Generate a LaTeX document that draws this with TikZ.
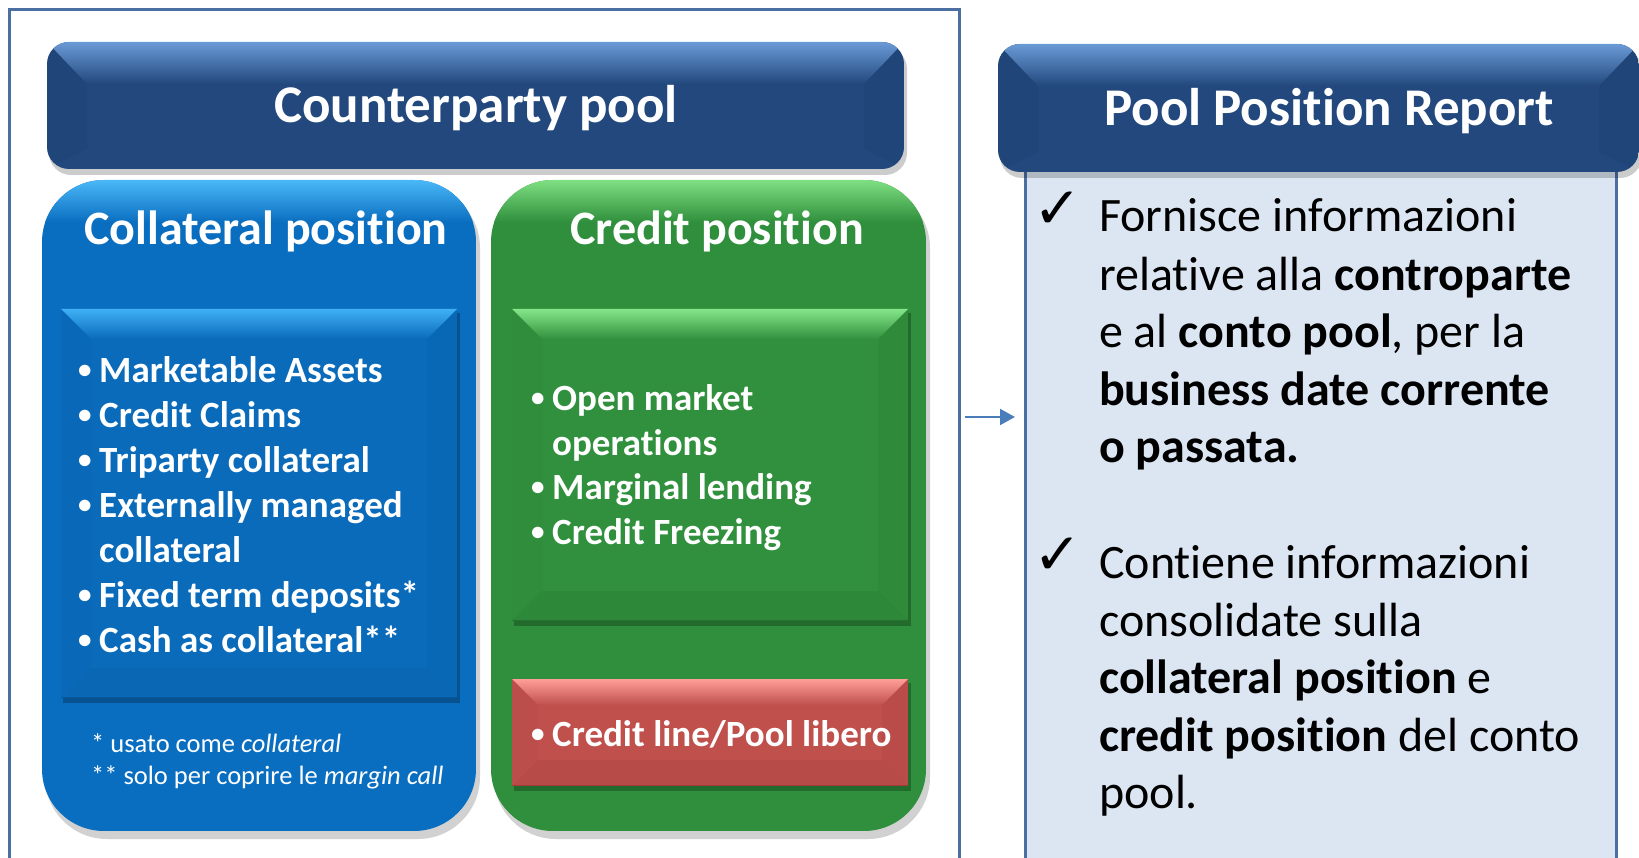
\documentclass[tikz,border=0pt]{standalone}
\usepackage{fontspec}
\setmainfont[Ligatures=NoCommon]{Carlito}
\newfontfamily\symfont{DejaVu Sans}
\usetikzlibrary{arrows.meta}
\definecolor{frameblue}{HTML}{4A6FA0}
\definecolor{hdrdark}{HTML}{22487D}
\definecolor{hdrlight}{HTML}{6A9AD6}
\definecolor{bluemain}{HTML}{0A6EC0}
\definecolor{bluelight}{HTML}{4AB8F8}
\definecolor{bluedark}{HTML}{054F8E}
\definecolor{ibluemain}{HTML}{0A6BBB}
\definecolor{ibluelight}{HTML}{3FB0F5}
\definecolor{greenmain}{HTML}{2F8F3C}
\definecolor{greenlight}{HTML}{7FDF82}
\definecolor{igreenmain}{HTML}{31903D}
\definecolor{igreenlight}{HTML}{84E689}
\definecolor{greendark}{HTML}{1E5E27}
\definecolor{redmain}{HTML}{BF504C}
\definecolor{redlight}{HTML}{FF9E98}
\definecolor{reddark}{HTML}{8A2F2C}
\definecolor{panelfill}{HTML}{DCE6F2}
\definecolor{arrowblue}{HTML}{4A7EBB}
\newcommand\bevelrect[8]{%
  \fill[black,opacity=0.25] ({#1+2},{#2+4}) rectangle ({#3+3},{#4+5});
  \fill[#5] (#1,#2) rectangle (#3,#4);
  \shade[top color=#6, bottom color=#5] (#1,#2) -- (#3,#2) -- ({#3-#8},{#2+#8}) -- ({#1+#8},{#2+#8}) -- cycle;
  \fill[#7,opacity=0.14] (#1,#4) -- (#3,#4) -- ({#3-#8},{#4-#8}) -- ({#1+#8},{#4-#8}) -- cycle;
  \fill[#7,opacity=0.06] (#1,#2) -- ({#1+#8},{#2+#8}) -- ({#1+#8},{#4-#8}) -- (#1,#4) -- cycle;
  \fill[#7,opacity=0.10] (#3,#2) -- ({#3-#8},{#2+#8}) -- ({#3-#8},{#4-#8}) -- (#3,#4) -- cycle;
  \draw[#7,opacity=0.5,line width=1.5pt] (#1,{#4-0.75}) -- (#3,{#4-0.75});
}
\newcommand\hdrbox[4]{%
  \fill[black,opacity=0.2,rounded corners=22] ({#1+2},{#2+5}) rectangle ({#3+3},{#4+6});
  \begin{scope}
    \clip[rounded corners=22] (#1,#2) rectangle (#3,#4);
    \fill[hdrdark] (#1,#2) rectangle (#3,#4);
    \shade[top color=hdrlight, bottom color=hdrdark] (#1,#2) -- (#3,#2) -- ({#3-40},{#2+42}) -- ({#1+40},{#2+42}) -- cycle;
    \fill[black,opacity=0.04] (#1,#2) -- ({#1+40},{#2+42}) -- ({#1+40},{#4-20}) -- (#1,#4) -- cycle;
    \fill[black,opacity=0.04] (#3,#2) -- ({#3-40},{#2+42}) -- ({#3-40},{#4-20}) -- (#3,#4) -- cycle;
  \end{scope}
}
\newcommand\roundbox[5]{%
  \fill[black,opacity=0.18,rounded corners=62] ({#1+3},{#2+6}) rectangle ({#3+4},{#4+8});
  \begin{scope}
    \clip[rounded corners=62] (#1,#2) rectangle (#3,#4);
    \fill[#5] (#1,#2) rectangle (#3,#4);
  \end{scope}
}
\tikzset{
  hdrtext/.style={text=white, font=\fontsize{53}{64}\selectfont\bfseries, anchor=mid, inner sep=0pt},
  titletext/.style={text=white, font=\fontsize{48}{58}\selectfont\bfseries, anchor=mid, inner sep=0pt},
  itemtext/.style={text=white, font=\fontsize{37}{45}\selectfont\bfseries, anchor=mid west, inner sep=0pt},
  notetext/.style={text=white, font=\fontsize{26.5}{32}\selectfont, anchor=mid west, inner sep=0pt},
  reptext/.style={text=black, font=\fontsize{48}{58}\selectfont, anchor=mid west, inner sep=0pt},
  checktext/.style={text=black, font=\symfont\bfseries\fontsize{58}{66}\selectfont, anchor=center, inner sep=0pt},
}
\newcommand\bul{\makebox[21pt][l]{\raisebox{3.5pt}{\fontsize{27}{27}\selectfont •}}}
\begin{document}
\begin{tikzpicture}[x=1pt,y=-1pt]
\useasboundingbox (0,0) rectangle (1639,858);
\clip (0,0) rectangle (1639,858);
\fill[white] (0,0) rectangle (1639,858);

% outer frame
\node[draw=frameblue, line width=3pt, minimum width=950pt, minimum height=900pt, anchor=north west, inner sep=0pt] (frame) at (8,8) {};

% right panel
\node[draw=frameblue, fill=panelfill, line width=3pt, minimum width=591pt, minimum height=760pt, anchor=north west, inner sep=0pt] (panel) at (1024,166) {};

% headers
\hdrbox{47}{42}{904}{169}
\node[hdrtext] (cphdr) at (476,120) {Counterparty pool};
\hdrbox{998}{44}{1639}{172}
\node[hdrtext] (pprhdr) at (1329,123) {Pool Position Report};

% collateral position
\roundbox{42}{180}{476}{831}{bluemain}
\begin{scope}
  \clip[rounded corners=62] (42,180) rectangle (476,831);
  \shade[top color=bluelight, bottom color=bluemain] (42,180) rectangle (476,222);
\end{scope}
\node[titletext] (colltitle) at (266,242) {Collateral position};
\bevelrect{61}{309}{457}{698}{ibluemain}{ibluelight}{bluedark}{30}
\node[itemtext] (c1) at (78,380) {\bul Marketable Assets};
\node[itemtext] (c2) at (78,425) {\bul Credit Claims};
\node[itemtext] (c3) at (78,470) {\bul Triparty collateral};
\node[itemtext] (c4) at (78,515) {\bul Externally managed};
\node[itemtext] (c4b) at (99,560) {collateral};
\node[itemtext] (c5) at (78,605) {\bul Fixed term deposits*};
\node[itemtext] (c6) at (78,650) {\bul Cash as collateral**};
\node[notetext] (n1) at (91,750) {* usato come \textit{collateral}};
\node[notetext] (n2) at (91,782) {** solo per coprire le \textit{margin call}};

% credit position
\roundbox{491}{180}{926}{831}{greenmain}
\begin{scope}
  \clip[rounded corners=62] (491,180) rectangle (926,831);
  \shade[top color=greenlight, bottom color=greenmain] (491,180) rectangle (926,222);
\end{scope}
\node[titletext] (credtitle) at (717,242) {Credit position};
\bevelrect{512}{309}{908}{621}{igreenmain}{igreenlight}{greendark}{30}
\node[itemtext] (g1) at (531,408) {\bul Open market};
\node[itemtext] (g1b) at (552,453) {operations};
\node[itemtext] (g2) at (531,497) {\bul Marginal lending};
\node[itemtext] (g3) at (531,542) {\bul Credit Freezing};
\bevelrect{512}{679}{908}{786}{redmain}{redlight}{reddark}{26}
\node[itemtext] (r1) at (531,744) {\bul Credit line/Pool libero};

% arrow
\coordinate (arrY) at (0,417);
\draw[arrowblue, line width=2.2pt, -{Triangle[length=15pt,width=16pt]}, shorten <=4pt, shorten >=9pt] (frame.east |- arrY) -- (panel.west |- arrY);

% report text
\node[checktext] (k1) at (1058,210) {✓};
\node[reptext] (p1) at (1099,229) {Fornisce informazioni};
\node[reptext] (p2) at (1099,288) {relative alla \textbf{controparte}};
\node[reptext] (p3) at (1099,345) {e al \textbf{conto pool}, per la};
\node[reptext] (p4) at (1099,403) {\textbf{business date corrente}};
\node[reptext] (p5) at (1099,460) {\textbf{o passata.}};
\node[checktext] (k2) at (1058,556) {✓};
\node[reptext] (p6) at (1099,576) {Contiene informazioni};
\node[reptext] (p7) at (1099,634) {consolidate sulla};
\node[reptext] (p8) at (1099,691) {\textbf{collateral position} e};
\node[reptext] (p9) at (1099,749) {\textbf{credit position} del conto};
\node[reptext] (p10) at (1099,806) {pool.};
\end{tikzpicture}
\end{document}
